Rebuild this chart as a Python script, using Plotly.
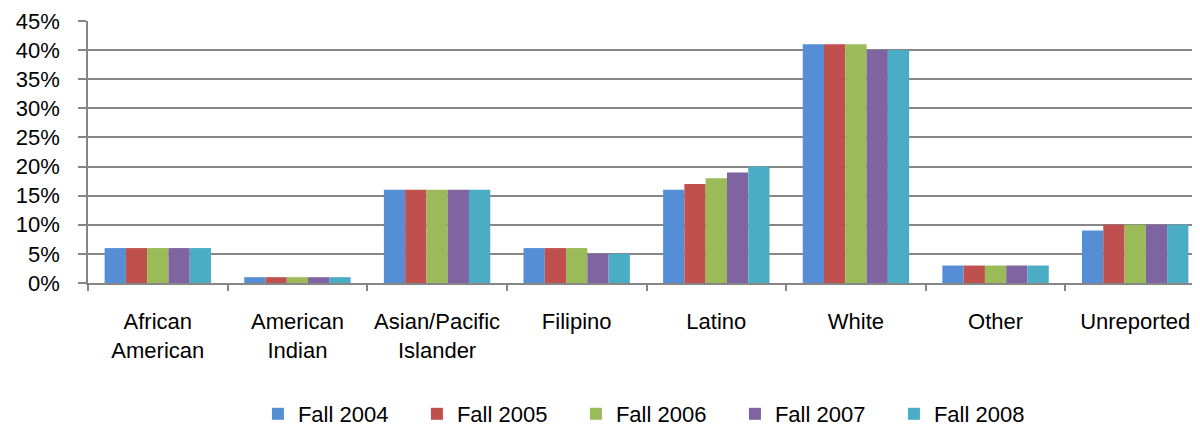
import plotly.graph_objects as go

# ethnicity categories (x axis)
categories = [
    "African<br>American",
    "American<br>Indian",
    "Asian/Pacific<br>Islander",
    "Filipino",
    "Latino",
    "White",
    "Other",
    "Unreported",
]

# percent of enrollment per term
fall_2004 = [6, 1, 16, 6, 16, 41, 3, 9]
fall_2005 = [6, 1, 16, 6, 17, 41, 3, 10]
fall_2006 = [6, 1, 16, 6, 18, 41, 3, 10]
fall_2007 = [6, 1, 16, 5, 19, 40, 3, 10]
fall_2008 = [6, 1, 16, 5, 20, 40, 3, 10]

series_names = ["Fall 2004", "Fall 2005", "Fall 2006", "Fall 2007", "Fall 2008"]
series_values = [fall_2004, fall_2005, fall_2006, fall_2007, fall_2008]
colors = ["#558ED5", "#C0504D", "#9BBB59", "#8064A2", "#4BACC6"]

fig = go.Figure()

for name, vals, col in zip(series_names, series_values, colors):
    fig.add_trace(
        go.Bar(
            x=categories,
            y=vals,
            name=name,
            marker=dict(color=col, line=dict(width=0)),
        )
    )

grid_col = "#868686"

# the page body adds an 8px offset, margins are reduced to compensate
fig.update_layout(
    width=1200,
    height=430,
    barmode="group",
    bargap=0.238,
    bargroupgap=0,
    plot_bgcolor="white",
    paper_bgcolor="white",
    font=dict(family="Arial, Liberation Sans, sans-serif", size=22, color="black"),
    margin=dict(l=80, r=3, t=13, b=155),
    showlegend=True,
    legend=dict(
        orientation="h",
        x=0.508,
        xanchor="center",
        y=-0.5,
        yanchor="middle",
        font=dict(size=22),
        entrywidth=114,
    ),
)

fig.update_xaxes(
    type="category",
    range=[-0.5, 7.5],
    showline=True,
    linecolor=grid_col,
    linewidth=1.5,
    ticks="outside",
    tickson="boundaries",
    ticklen=6,
    tickcolor=grid_col,
    tickwidth=1.5,
    ticklabelstandoff=18,
    showgrid=False,
    automargin=False,
    tickfont=dict(size=22),
)

fig.update_yaxes(
    range=[0, 45],
    dtick=5,
    ticksuffix="%",
    showgrid=True,
    gridcolor=grid_col,
    gridwidth=1.5,
    showline=True,
    linecolor=grid_col,
    linewidth=1.5,
    ticks="outside",
    ticklen=8,
    tickcolor=grid_col,
    tickwidth=1.5,
    ticklabelstandoff=14,
    ticklabeloverflow="allow",
    automargin=False,
    zeroline=False,
    tickfont=dict(size=22),
)

fig.write_html("out.html")
